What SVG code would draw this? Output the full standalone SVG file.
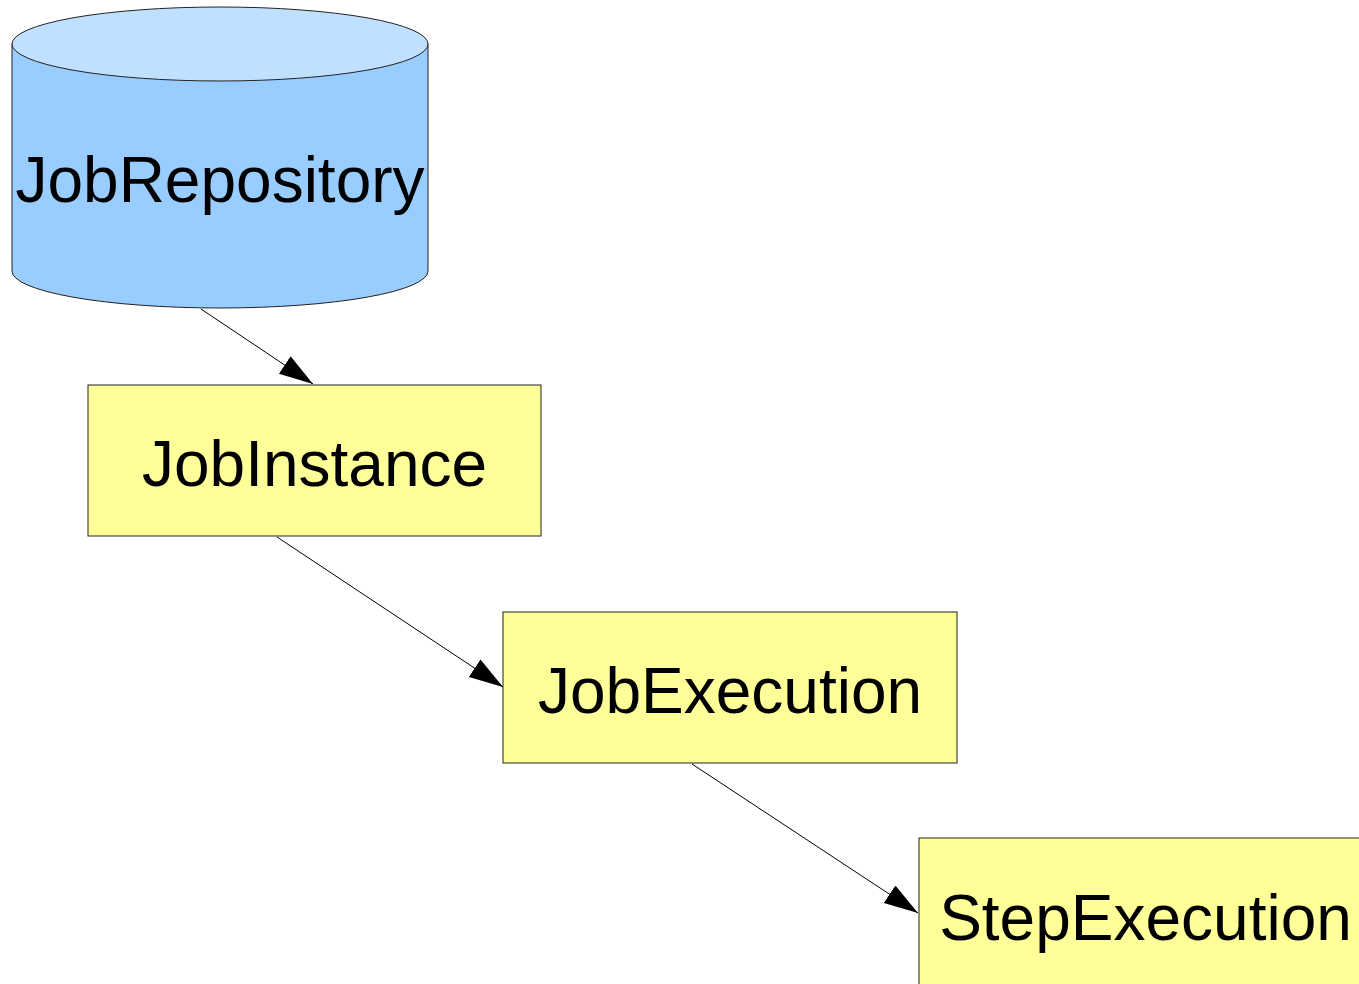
<svg xmlns="http://www.w3.org/2000/svg" width="1359" height="984" viewBox="0 0 1359 984">
<style>
.box{fill:#ffff99;stroke:#222;stroke-width:1}
.lbl{font-family:"Liberation Sans",Arial,sans-serif;font-size:64px;fill:#000;text-anchor:middle}
.edge{stroke:#000;stroke-width:1;fill:none;marker-end:url(#arr)}
</style>
<defs>
<marker id="arr" markerUnits="userSpaceOnUse" markerWidth="36" markerHeight="24" refX="34" refY="10.5" orient="auto" viewBox="0 0 36 24">
<path d="M0,0 L34,10.5 L0,21 z" fill="#000"/>
</marker>
</defs>
<rect width="1359" height="984" fill="#fff"/>
<g id="JobRepository">
<path d="M12,44 L12,271 A208,37 0 0 0 428,271 L428,44 z" fill="#99ccff" stroke="#222" stroke-width="1"/>
<ellipse cx="220" cy="44" rx="208" ry="37" fill="#c0e0ff" stroke="#222" stroke-width="1"/>
<text class="lbl" x="220" y="202">JobRepository</text>
</g>
<g id="JobInstance">
<rect class="box" x="88" y="385" width="453" height="151"/>
<text class="lbl" x="314.5" y="486">JobInstance</text>
</g>
<g id="JobExecution">
<rect class="box" x="503" y="612" width="454" height="151"/>
<text class="lbl" x="730" y="713">JobExecution</text>
</g>
<g id="StepExecution">
<rect class="box" x="919" y="838" width="453" height="151"/>
<text class="lbl" x="1145.5" y="940">StepExecution</text>
</g>
<g id="connectors">
<path class="edge" d="M201,309 L313,384"/>
<path class="edge" d="M277,537 L503,687"/>
<path class="edge" d="M692,764 L918,913"/>
</g>
</svg>
